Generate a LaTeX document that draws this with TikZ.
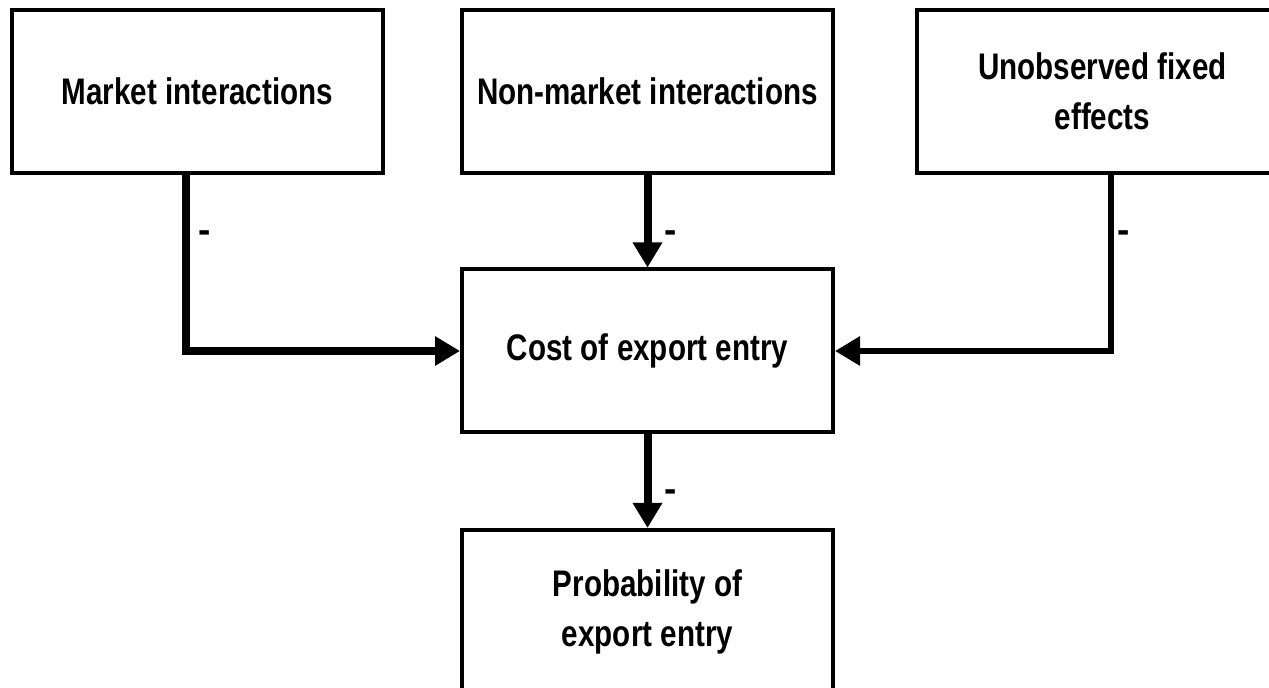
\documentclass[tikz,border=0pt]{standalone}
\usepackage{fontspec}
\newfontfamily\boxfont{Liberation Sans}[FakeStretch=0.8]
\newfontfamily\signfont{Liberation Sans}
\usetikzlibrary{arrows.meta}
\tikzset{
  box/.style={shape=rectangle,draw,line width=2pt,minimum width=185.5pt,minimum height=81.5pt,align=center,font=\boxfont\bfseries\fontsize{18.5pt}{25pt}\selectfont},
  link/.style={line width=4pt,-{Triangle[length=12.5pt,width=14pt]}},
  sign/.style={inner sep=0pt,font=\signfont\bfseries\fontsize{18.5pt}{25pt}\selectfont}
}
\begin{document}
\begin{tikzpicture}[x=0.5pt,y=-0.5pt]
\useasboundingbox (0,0) rectangle (1269,688);
\node[box](MI) at (197.5,91.5){Market interactions};
\node[box](NMI) at (647.5,91.5){Non-market interactions};
\node[box](UFE) at (1102.5,91.5){Unobserved fixed\\effects};
\node[box](CEE) at (647.5,351){Cost of export entry};
\node[box](PEE) at (647.5,611.5){Probability of\\export entry};
\coordinate (MIx) at (185.5,0);
\coordinate (UFEx) at (1111,0);
\draw[link] (MI.south -| MIx) |- (CEE.west);
\node[sign](MIs) at (205,237){-};
\draw[link] (NMI) -- (CEE);
\node[sign](NMIs) at (671,237){-};
\draw[link,line width=3pt] (UFE.south -| UFEx) |- (CEE.east);
\node[sign](UFEs) at (1124,237){-};
\draw[link] (CEE) -- (PEE);
\node[sign](CEEs) at (671,496){-};
\end{tikzpicture}
\end{document}
